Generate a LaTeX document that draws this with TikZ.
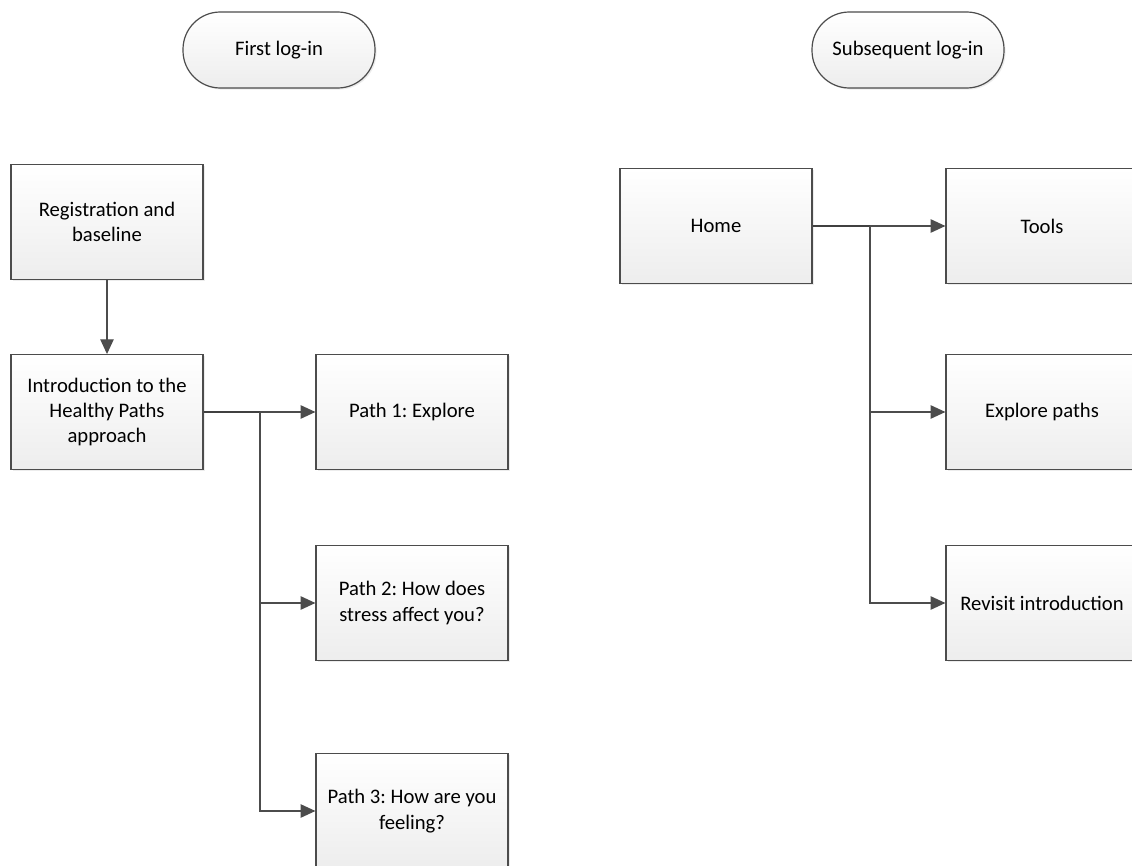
\documentclass[tikz,border=0pt]{standalone}
\usepackage{fontspec}
\setmainfont{Carlito}
\frenchspacing
\usetikzlibrary{arrows.meta,shadows}
\tikzset{
  box/.style={draw=black!70, line width=0.9pt, top color=white, bottom color=black!7,
    minimum width=144pt, minimum height=86pt, align=center,
    drop shadow={opacity=0.15, shadow xshift=1.2pt, shadow yshift=-1.2pt}},
  term/.style={box, minimum width=144pt, minimum height=57pt, rounded corners=28pt},
  feed/.style={draw=black!75, line width=1.4pt},
  arr/.style={draw=black!70, line width=0.9pt, -{Triangle[length=11pt,width=10pt]}}
}
\begin{document}
\begin{tikzpicture}[x=0.75pt,y=-0.75pt,font=\fontsize{15.5}{19}\selectfont]
\useasboundingbox (0,0) rectangle (1132,866);
\draw  (279,50) node[term] (v0) {First log-in};
\draw  (908,50) node[term] (w0) {Subsequent log-in};
\draw  (107,222) node[box] (v1) {Registration and\\baseline};
\draw  (107,412) node[box] (v2) {Introduction to the\\Healthy Paths\\approach};
\draw  (412,412) node[box] (v3) {Path 1: Explore};
\draw  (412,603) node[box] (v4) {Path 2: How does\\stress affect you?};
\draw  (412,811) node[box] (v5) {Path 3: How are you\\feeling?};
\draw  (716,226) node[box] (w1) {Home};
\draw  (1042,226) node[box] (w2) {Tools};
\draw  (1042,412) node[box] (w3) {Explore paths};
\draw  (1042,603) node[box] (w4) {Revisit introduction};
\coordinate (j1) at (260,412);
\coordinate (j2) at (870,226);
\draw [arr] (v1) -- (v2);
\draw [feed] (v2) -- (j1);
\draw [arr] (j1) -- (v3);
\draw [arr] (j1) |- (v4);
\draw [arr] (j1) |- (v5);
\draw [feed] (w1) -- (j2);
\draw [arr] (j2) -- (w2);
\draw [arr] (j2) |- (w3);
\draw [arr] (j2) |- (w4);
\end{tikzpicture}
\end{document}
